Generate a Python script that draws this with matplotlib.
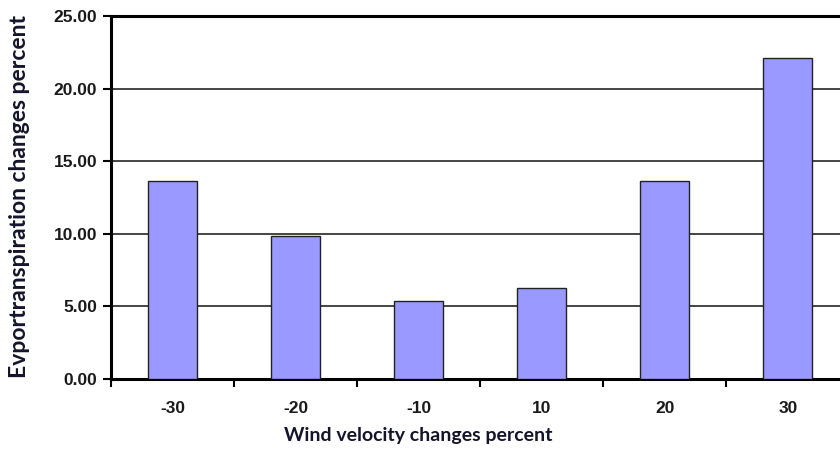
import matplotlib.pyplot as plt
from matplotlib.ticker import FixedLocator, FormatStrFormatter

categories = ["-30", "-20", "-10", "10", "20", "30"]
values = [13.66, 9.86, 5.40, 6.25, 13.67, 22.15]
yticks = [0, 5, 10, 15, 20, 25]

fig = plt.figure(figsize=(8.4, 4.5), dpi=100)
ax = fig.add_axes([0.1321, 0.1578, 0.879, 0.8056])

x = range(len(categories))
ax.bar(x, values, width=0.4, color="#9999ff", edgecolor="#222222", linewidth=1.0, zorder=3)

ax.set_xlim(-0.5, len(categories) - 0.5)
ax.set_ylim(0, 25)
ax.set_yticks(yticks)
ax.yaxis.set_major_formatter(FormatStrFormatter("%.2f"))
ax.yaxis.grid(True, color="#444444", linewidth=1.4, zorder=1)

ax.set_xticks(list(x))
ax.set_xticklabels(categories)
ax.xaxis.set_minor_locator(FixedLocator([i - 0.5 for i in range(len(categories) + 1)]))
ax.tick_params(axis="x", which="major", length=0, pad=16)
ax.tick_params(axis="x", which="minor", length=6, width=1.5, direction="out")
ax.tick_params(axis="y", length=6, width=1.5, direction="out", pad=4)

for s in ["left", "bottom", "top"]:
    ax.spines[s].set_linewidth(2.2)
    ax.spines[s].set_color("black")
ax.spines["right"].set_visible(False)

for lab in ax.get_xticklabels() + ax.get_yticklabels():
    lab.set_fontfamily("Liberation Sans")
    lab.set_fontweight("bold")
    lab.set_fontsize(12.5)
    lab.set_color("#1a1a1a")

fig.text(418 / 840, 1 - 436 / 450, "Wind velocity changes percent", ha="center", va="center",
         fontfamily="Lato", fontweight="bold", fontsize=14, color="#14142a")
fig.text(20 / 840, 1 - 196 / 450, "Evportranspiration changes percent", rotation=90, ha="center", va="center",
         fontfamily="Lato", fontweight="bold", fontsize=16.5, color="#14142a")

fig.savefig("out.png", dpi=100)
